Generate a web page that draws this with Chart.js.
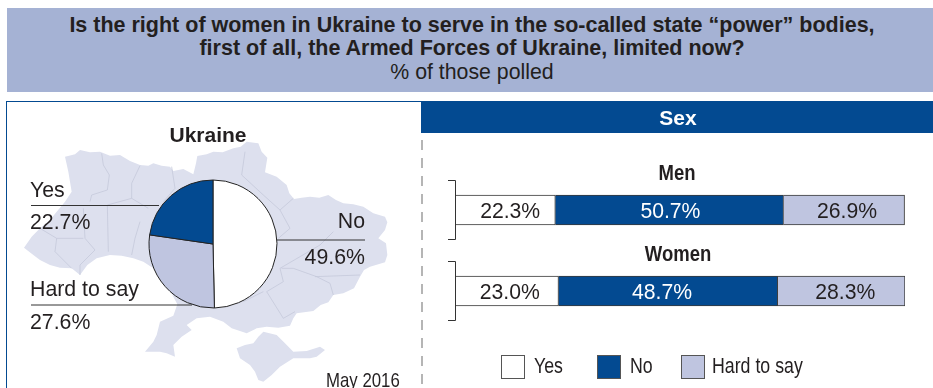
<!DOCTYPE html>
<html>
<head>
<meta charset="utf-8">
<script src="https://cdn.jsdelivr.net/npm/chart.js@4/dist/chart.umd.min.js"></script>
<style>
    html, body { margin: 0; padding: 0; background: #fff; }
    body { width: 933px; height: 388px; position: relative; overflow: hidden; font-family: "Liberation Sans", Arial, sans-serif; color: #231f20; }
    .abs { position: absolute; white-space: nowrap; line-height: 1; }
    #header { position: absolute; left: 7px; top: 8px; width: 926px; height: 84px; background: #a5b2d4; }
    #panel { position: absolute; left: 6px; top: 101px; width: 415px; height: 300px; border: 1px solid #034a91; border-width: 1.5px 0 0 1.5px; box-sizing: border-box; }
    #sexBar { position: absolute; left: 421px; top: 101px; width: 512px; height: 32px; background: #034a91; }
    #dash { position: absolute; left: 421px; top: 140px; width: 2px; height: 248px; background: repeating-linear-gradient(to bottom, #b5b5b5 0 10px, transparent 10px 18px); }
    #map { position: absolute; left: 0; top: 95px; width: 430px; height: 293px; }
    canvas { position: absolute; }
    .narrow { transform-origin: left center; }
    .swatch { position: absolute; width: 22px; height: 22px; border: 1px solid #555; }
</style>
</head>
<body>
<div id="header"></div>
<div id="panel"></div>
<div id="sexBar"></div>
<div id="dash"></div>

<svg id="map" viewBox="0 0 1290 879">
    <g fill="#dde0ee" stroke="none">
        <path d="M195,185 L225,178 L240,165 L270,172 L300,170 L330,182 L360,180 L390,198 L420,210 L445,212 L460,205 L485,212 L510,215 L520,228 L550,222 L580,238 L588,205 L592,183 L620,178 L640,170 L668,172 L700,160 L722,155 L740,140 L775,145 L785,170 L802,188 L795,232 L830,245 L860,270 L868,295 L882,312 L905,308 L930,305 L958,308 L985,300 L1008,315 L1030,325 L1060,328 L1090,335 L1120,355 L1155,365 L1162,382 L1155,405 L1135,430 L1158,445 L1162,480 L1155,502 L1110,515 L1092,525 L1080,545 L1062,580 L1030,595 L1000,600 L985,622 L962,630 L940,648 L890,655 L880,670 L870,692 L835,698 L800,695 L770,700 L740,715 L695,700 L670,680 L630,665 L590,670 L560,690 L575,705 L545,725 L520,750 L525,785 L500,775 L480,770 L435,770 L460,740 L470,720 L480,680 L520,662 L532,628 L512,590 L485,555 L460,520 L430,500 L400,490 L365,482 L330,480 L290,490 L262,510 L240,540 L215,520 L180,518 L150,510 L120,495 L100,480 L72,458 L95,425 L120,400 L150,375 L170,350 L195,320 L215,290 L210,260 L205,230 Z"/>
        <path d="M710,760 L735,750 L760,745 L775,725 L790,710 L830,720 L855,745 L880,770 L920,768 L960,755 L975,765 L950,785 L930,790 L880,790 L840,815 L815,840 L790,860 L775,855 L765,830 L750,810 L720,790 Z"/>
    </g>
    <g fill="none" stroke="#c2c7d8" stroke-width="2.2">
        <polyline points="305,175 310,210 328,240 322,285 275,300 270,320"/>
        <polyline points="420,212 395,265 395,310 322,330 325,470"/>
        <polyline points="515,215 525,280 490,320"/>
        <polyline points="395,310 445,340"/>
        <polyline points="420,380 405,430 395,480"/>
        <polyline points="250,340 255,430 285,465 240,510 240,540"/>
        <polyline points="120,400 170,430 165,470 215,520"/>
        <polyline points="250,430 170,430"/>
        <polyline points="735,170 725,240 790,300 840,345 870,400 835,430"/>
        <polyline points="840,345 880,310"/>
        <polyline points="1000,410 960,450 840,520"/>
        <polyline points="845,520 880,520 950,545 990,565 1000,600"/>
        <polyline points="945,545 1080,540"/>
        <polyline points="840,520 850,560 800,590 850,670 885,650"/>
        <polyline points="730,620 790,590"/>
    </g>
</svg>

<canvas id="pieChart" style="left:0;top:100px;width:426px;height:288px"></canvas>
<canvas id="barChart" style="left:421px;top:134px;width:512px;height:254px"></canvas>

<div class="abs" style="left:0;width:944px;text-align:center;top:15px;font-size:21.5px;font-weight:bold">Is the right of women in Ukraine to serve in the so-called state “power” bodies,</div>
<div class="abs" style="left:0;width:944px;text-align:center;top:38px;font-size:21.5px;font-weight:bold">first of all, the Armed Forces of Ukraine, limited now?</div>
<div class="abs" style="left:0;width:944px;text-align:center;top:62px;font-size:21.3px">% of those polled</div>
<div class="abs" style="left:0;width:416px;text-align:center;top:124px;font-size:21px;font-weight:bold">Ukraine</div>
<div class="abs" style="left:421px;width:514px;text-align:center;top:107px;font-size:21px;font-weight:bold;color:#fff">Sex</div>
<div class="abs narrow" style="left:326px;top:369px;font-size:21px;transform:scaleX(.8)">May 2016</div>
<div id="legend"></div>

<script>
const pieLabels = ['No', 'Hard to say', 'Yes'];
const pieValues = [49.6, 27.6, 22.7];

const groups = ['Men', 'Women'];
const legendLabels = ['Yes', 'No', 'Hard to say'];
const yesValues = [22.3, 23.0];
const noValues = [50.7, 48.7];
const hardValues = [26.9, 28.3];

const WHITE = '#ffffff';
const BLUE = '#034a91';
const LAVENDER = '#bfc5e0';
const INK = '#231f20';
const FONT = '"Liberation Sans", Arial, sans-serif';

// leader lines and text next to the pie, in canvas pixels
const calloutPlugin = {
    id: 'callouts',
    afterDraw(chart) {
        const ctx = chart.ctx;
        const top = 100;
        ctx.save();
        ctx.strokeStyle = '#333';
        ctx.lineWidth = 1;
        [[31, 159, 205.5], [31, 192, 305], [277, 365, 240]].forEach(([x1, x2, y]) => {
            ctx.beginPath();
            ctx.moveTo(x1, y - top);
            ctx.lineTo(x2, y - top);
            ctx.stroke();
        });
        ctx.fillStyle = INK;
        ctx.font = '21.3px ' + FONT;
        ctx.textAlign = 'left';
        ctx.fillText(pieLabels[2], 30, 197 - top);
        ctx.fillText(pieValues[2].toFixed(1) + '%', 30, 229 - top);
        ctx.fillText(pieLabels[1], 30, 296 - top);
        ctx.fillText(pieValues[1].toFixed(1) + '%', 30, 329 - top);
        ctx.textAlign = 'right';
        ctx.fillText(pieLabels[0], 365, 228 - top);
        ctx.fillText(pieValues[0].toFixed(1) + '%', 365, 264 - top);
        ctx.restore();
    }
};

new Chart(document.getElementById('pieChart'), {
    type: 'pie',
    data: {
        labels: pieLabels,
        datasets: [{
            data: pieValues,
            backgroundColor: [WHITE, LAVENDER, BLUE],
            borderColor: '#222',
            borderWidth: 1,
            radius: 64
        }]
    },
    options: {
        responsive: false,
        animation: false,
        plugins: { legend: { display: false }, tooltip: { enabled: false } }
    },
    plugins: [calloutPlugin]
});

// small shifts so each number sits where the original has it
const labelNudge = [[5, 1, 3], [3, -6, 4]];

const barLabelPlugin = {
    id: 'barLabels',
    afterDraw(chart) {
        const ctx = chart.ctx;
        const yScale = chart.scales.y;
        const x0 = chart.scales.x.left;
        ctx.save();
        ctx.lineWidth = 1;
        ctx.strokeStyle = '#333';
        groups.forEach((name, i) => {
            const yc = yScale.getPixelForValue(i);

            // bracket on the left of each bar
            ctx.beginPath();
            ctx.moveTo(x0 - 7, yc - 29.5);
            ctx.lineTo(x0 + 0.5, yc - 29.5);
            ctx.lineTo(x0 + 0.5, yc + 29.5);
            ctx.lineTo(x0 - 7, yc + 29.5);
            ctx.stroke();

            // group name, squeezed like the original type
            ctx.save();
            ctx.translate(x0 + 222 + i, yc - 36);
            ctx.scale(0.86, 1);
            ctx.font = 'bold 21.5px ' + FONT;
            ctx.textAlign = 'center';
            ctx.textBaseline = 'middle';
            ctx.fillStyle = INK;
            ctx.fillText(name, 0, 0);
            ctx.restore();

            chart.data.datasets.forEach((ds, d) => {
                const bar = chart.getDatasetMeta(d).data[i];
                const mid = (bar.base + bar.x) / 2;
                ctx.font = '21.2px ' + FONT;
                ctx.textAlign = 'center';
                ctx.textBaseline = 'alphabetic';
                ctx.fillStyle = d === 1 ? WHITE : INK;
                ctx.fillText(ds.data[i].toFixed(1) + '%', mid + labelNudge[i][d], yc + 7.5);
            });
        });
        ctx.restore();
    }
};

const legendColors = [WHITE, BLUE, LAVENDER];

new Chart(document.getElementById('barChart'), {
    type: 'bar',
    data: {
        labels: groups,
        datasets: [yesValues, noValues, hardValues].map((values, i) => ({
            label: legendLabels[i],
            data: values,
            backgroundColor: legendColors[i],
            borderColor: '#3a3a3a',
            borderWidth: 1,
            barThickness: 30
        }))
    },
    options: {
        indexAxis: 'y',
        responsive: false,
        animation: false,
        layout: { padding: { left: 34, right: 28, top: 35.5, bottom: 56.5 } },
        scales: {
            x: { stacked: true, min: 0, max: 100, display: false },
            y: { stacked: true, display: false }
        },
        plugins: { legend: { display: false }, tooltip: { enabled: false } }
    },
    plugins: [barLabelPlugin]
});

// legend built by hand, the spacing in the original is uneven
const legend = document.getElementById('legend');
const swatchLeft = [501, 597, 681];
const textLeft = [534, 630, 712];
legendLabels.forEach((label, i) => {
    const box = document.createElement('div');
    box.className = 'swatch';
    box.style.left = swatchLeft[i] + 'px';
    box.style.top = '355px';
    box.style.background = legendColors[i];
    legend.appendChild(box);

    const text = document.createElement('div');
    text.className = 'abs narrow';
    text.style.left = textLeft[i] + 'px';
    text.style.top = '355px';
    text.style.fontSize = '22.2px';
    text.style.transform = 'scaleX(.8)';
    text.textContent = label;
    legend.appendChild(text);
});
</script>
</body>
</html>
